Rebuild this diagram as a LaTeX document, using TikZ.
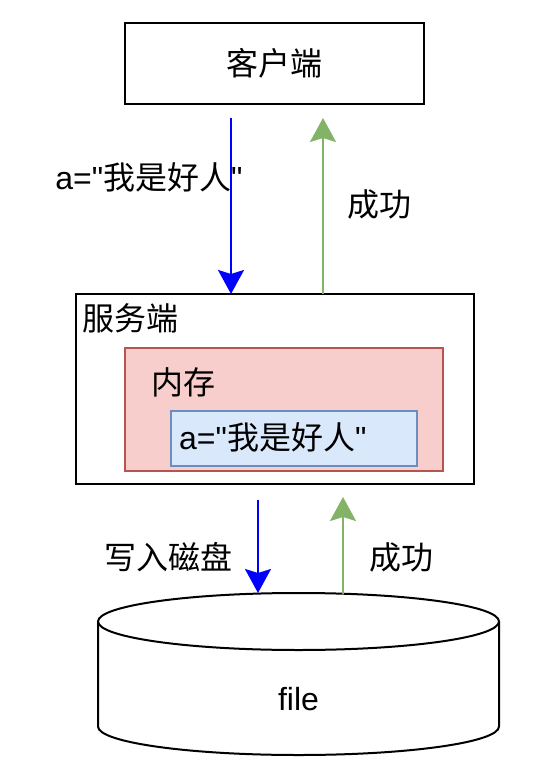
\documentclass[tikz,border=0pt]{standalone}
\usepackage{fontspec}
\setmainfont{Liberation Sans}[Ligatures=TeXOff]
\newfontfamily\cjk{Noto Sans CJK SC}
\usetikzlibrary{arrows.meta}
\definecolor{arrblue}{HTML}{0000FF}
\definecolor{arrgreen}{HTML}{82B366}
\definecolor{redfill}{HTML}{F8CECC}
\definecolor{redline}{HTML}{B85450}
\definecolor{bluefill}{HTML}{DAE8FC}
\definecolor{blueline}{HTML}{6C8EBF}
\begin{document}
\begin{tikzpicture}[x=1pt,y=-1pt,
  box/.style={draw=black,line width=2pt,fill=white},
  lbl/.style={inner sep=0pt,anchor=base,font=\fontsize{32}{38}\selectfont},
  lblw/.style={inner sep=0pt,anchor=base west,font=\fontsize{32}{38}\selectfont},
  tip/.style={-{Stealth[length=24pt,width=26pt,inset=4pt]}},
  blueflow/.style={tip,draw=arrblue,fill=arrblue,line width=2pt},
  greenflow/.style={tip,draw=arrgreen,fill=arrgreen,line width=2pt}]
\useasboundingbox[fill=white] (0,0) rectangle (558,783);

% client
\draw[box] (125,23) rectangle (424,104);
\coordinate (c) at (274.5,63.5);
\node[lbl] (ct) at (274.5,75.5) {\cjk 客户端};

% server
\draw[box] (76,294) rectangle (474,484);
\node[lblw] (st) at (82,330) {\cjk 服务端};
\draw[draw=redline,fill=redfill,line width=2pt] (125,348) rectangle (443,471);
\node[lblw] (mt) at (151,394) {\cjk 内存};
\draw[draw=blueline,fill=bluefill,line width=2pt] (171,411) rectangle (417,466);
\node[lblw] (vt) at (179,449) {a="{\cjk 我是好人}"};

% storage cylinder
\draw[line width=2pt,fill=white] (98,621.5) -- (98,726.5)
   arc[start angle=180,end angle=0,x radius=200.5,y radius=28.5] -- (499,621.5);
\draw[line width=2pt,fill=white] (298.5,621.5) ellipse [x radius=200.5,y radius=28.5];
\node[lbl] (ft) at (298.5,710) {file};

% anchor points of the connectors
\coordinate (b1s) at (231,118);
\coordinate (b1e) at (231,294);
\coordinate (g1s) at (323,294);
\coordinate (g1e) at (323,118);
\coordinate (b2s) at (258,500);
\coordinate (b2e) at (258,593);
\coordinate (g2s) at (343,594);
\coordinate (g2e) at (343,497);

% labels
\node[lbl] (l1) at (149,190) {a="{\cjk 我是好人}"};
\node[lbl] (l2) at (379,217) {\cjk 成功};
\node[lbl] (l3) at (168.5,569) {\cjk 写入磁盘};
\node[lbl] (l4) at (401,569) {\cjk 成功};

% connectors
\draw[blueflow] (b1s) -- (b1e);
\draw[greenflow] (g1s) -- (g1e);
\draw[blueflow] (b2s) -- (b2e);
\draw[greenflow] (g2s) -- (g2e);
\end{tikzpicture}
\end{document}
